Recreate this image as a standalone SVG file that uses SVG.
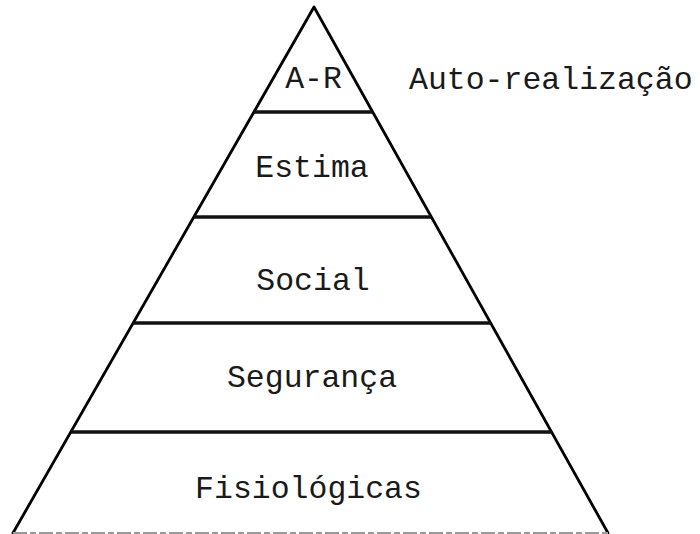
<svg xmlns="http://www.w3.org/2000/svg" width="700" height="534" viewBox="0 0 700 534">
<style>
.side{stroke:#000;stroke-width:2.8;fill:none;stroke-linecap:round;stroke-linejoin:round}
.tier{stroke:#111;stroke-width:3.6;fill:none}
.base{stroke:#999;stroke-width:2;stroke-dasharray:14 3 6 3;fill:none}
.lbl{font-family:"Liberation Mono","DejaVu Sans Mono",monospace;font-size:31.5px;fill:#1a1a1a;text-anchor:middle}
.side-lbl{font-family:"Liberation Mono","DejaVu Sans Mono",monospace;font-size:31.5px;fill:#1a1a1a}
</style>
<rect width="700" height="534" fill="#fff"/>
<g id="connectors">
<polyline class="side" points="13,533 314,7 608,533"/>
<line class="base" x1="13" y1="533" x2="608" y2="533"/>
<line class="tier" x1="254" y1="112" x2="373" y2="112"/>
<line class="tier" x1="194" y1="217" x2="431" y2="217"/>
<line class="tier" x1="133" y1="323" x2="491" y2="323"/>
<line class="tier" x1="71" y1="432" x2="552" y2="432"/>
</g>
<g id="node-ar"><text class="lbl" x="313.5" y="88">A-R</text></g>
<g id="label-auto"><text class="side-lbl" x="409" y="89">Auto-realização</text></g>
<g id="node-estima"><text class="lbl" x="312" y="177">Estima</text></g>
<g id="node-social"><text class="lbl" x="313" y="290">Social</text></g>
<g id="node-seguranca"><text class="lbl" x="312" y="387">Segurança</text></g>
<g id="node-fisiologicas"><text class="lbl" x="308.5" y="498">Fisiológicas</text></g>
</svg>
